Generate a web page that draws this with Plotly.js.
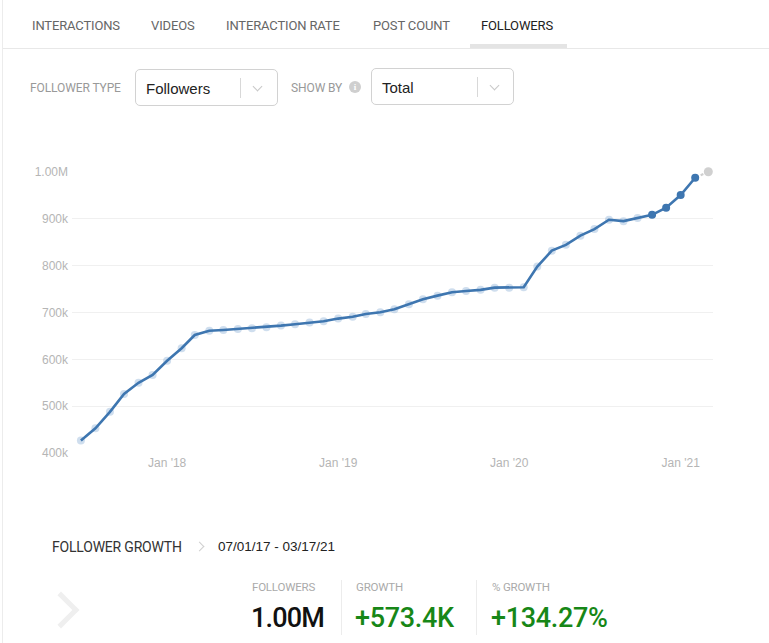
<!DOCTYPE html>
<html>
<head>
<meta charset="utf-8">
<script src="https://cdn.plot.ly/plotly-3.0.1.min.js"></script>
<style>
  html, body { margin:0; padding:0; background:#fff; }
  body { width:769px; height:643px; position:relative; overflow:hidden; font-family: Roboto, "Liberation Sans", sans-serif; }
  .abs { position:absolute; white-space:nowrap; }
  .tab { font-size:13px; color:#666; letter-spacing:-0.15px; top:18px; line-height:16px; }
  .lbl { font-size:12px; color:#999; letter-spacing:-0.1px; line-height:14px; }
  .box { border:1px solid #d2d2d2; border-radius:5px; box-sizing:border-box; }
  .sel { font-size:15px; color:#222; line-height:18px; font-family:"Liberation Sans", sans-serif; }
  .sep { background:#d8d8d8; width:1px; }
  .chev { width:6px; height:6px; border-right:1.5px solid #c8c8c8; border-bottom:1.5px solid #c8c8c8; transform:rotate(45deg); }
  .slbl { font-size:11.5px; color:#aaa; letter-spacing:-0.2px; line-height:14px; top:580px; }
  .sval { font-size:27px; line-height:30px; top:603px; font-family:Roboto, sans-serif; font-weight:500; letter-spacing:-0.3px; }
  .vsep { background:#ececec; width:1px; top:580px; height:55px; }
  #chart { position:absolute; left:0; top:0; width:769px; height:643px; }
</style>
</head>
<body>
<div id="chart"></div>

<!-- left border -->
<div class="abs" style="left:2px; top:0; width:1px; height:643px; background:#ececec;"></div>

<!-- tabs -->
<div class="abs tab" style="left:32px;">INTERACTIONS</div>
<div class="abs tab" style="left:151px;">VIDEOS</div>
<div class="abs tab" style="left:226px;">INTERACTION RATE</div>
<div class="abs tab" style="left:373px;">POST COUNT</div>
<div class="abs tab" style="left:481px; color:#222;">FOLLOWERS</div>
<div class="abs" style="left:470px; top:44px; width:97px; height:4px; background:#e4e4e4;"></div>
<div class="abs" style="left:3px; top:48px; width:766px; height:1px; background:#e8e8e8;"></div>

<!-- dropdown row -->
<div class="abs lbl" style="left:30px; top:81px;">FOLLOWER TYPE</div>
<div class="abs box" style="left:135px; top:69px; width:143px; height:37px;"></div>
<div class="abs sel" style="left:146px; top:80px;">Followers</div>
<div class="abs sep" style="left:240px; top:78px; height:20px;"></div>
<div class="abs chev" style="left:254px; top:83px;"></div>

<div class="abs lbl" style="left:291px; top:81px;">SHOW BY</div>
<div class="abs" style="left:349px; top:81px; width:12px; height:12px; border-radius:6px; background:#cfcfcf; color:#fff; font-size:9px; line-height:12px; text-align:center; font-weight:bold; font-family:'Liberation Serif', serif;">i</div>
<div class="abs box" style="left:371px; top:68px; width:143px; height:37px;"></div>
<div class="abs sel" style="left:382px; top:79px;">Total</div>
<div class="abs sep" style="left:477px; top:77px; height:20px;"></div>
<div class="abs chev" style="left:491px; top:82px;"></div>

<!-- bottom summary -->
<div class="abs" style="left:52px; top:539px; font-size:14px; color:#333; letter-spacing:-0.2px; line-height:16px;">FOLLOWER GROWTH</div>
<div class="abs" style="left:196px; top:543px; width:6px; height:6px; border-right:1.2px solid #cfcfcf; border-top:1.2px solid #cfcfcf; transform:rotate(45deg);"></div>
<div class="abs" style="left:218px; top:539px; font-size:13.5px; color:#222; line-height:16px; font-family:'Liberation Sans', sans-serif;">07/01/17 - 03/17/21</div>

<div class="abs" style="left:48px; top:597px; width:21px; height:21px; border-right:5px solid #efefef; border-top:5px solid #efefef; transform:rotate(45deg);"></div>

<div class="abs slbl" style="left:252px;">FOLLOWERS</div>
<div class="abs slbl" style="left:356px;">GROWTH</div>
<div class="abs slbl" style="left:492px;">% GROWTH</div>
<div class="abs sval" style="left:251px; color:#111; letter-spacing:-0.8px;">1.00M</div>
<div class="abs sval" style="left:355px; color:#178717;">+573.4K</div>
<div class="abs sval" style="left:491px; color:#178717;">+134.27%</div>
<div class="abs vsep" style="left:341px;"></div>
<div class="abs vsep" style="left:476px;"></div>

<script>
// ---- data ----
const months = [
  '2017-07-01','2017-08-01','2017-09-01','2017-10-01','2017-11-01','2017-12-01',
  '2018-01-01','2018-02-01','2018-03-01','2018-04-01','2018-05-01','2018-06-01',
  '2018-07-01','2018-08-01','2018-09-01','2018-10-01','2018-11-01','2018-12-01',
  '2019-01-01','2019-02-01','2019-03-01','2019-04-01','2019-05-01','2019-06-01',
  '2019-07-01','2019-08-01','2019-09-01','2019-10-01','2019-11-01','2019-12-01',
  '2020-01-01','2020-02-01','2020-03-01','2020-04-01','2020-05-01','2020-06-01',
  '2020-07-01','2020-08-01','2020-09-01','2020-10-01','2020-11-01','2020-12-01',
  '2021-01-01','2021-02-01','2021-03-01'
];
const followers = [
  427000, 452700, 488000, 526000, 550000, 566700,
  597000, 623700, 652000, 661000, 662800, 665000,
  666500, 668500, 672000, 675000, 678400, 681400,
  687000, 691000, 697000, 700600, 707000, 717700,
  728400, 736000, 743300, 746000, 748300, 753000,
  753000, 754000, 798000, 832000, 844400, 864000,
  878000, 898000, 895000, 901500, 908500, 923500,
  950600, 987600, 1000400
];
const recentCount = 4;     // recent months drawn with solid markers
const yTickVals = [400000, 500000, 600000, 700000, 800000, 900000, 1000000];
const yTickText = ['400k', '500k', '600k', '700k', '800k', '900k', '1.00M'];
const xTickVals = ['2018-01-01', '2019-01-01', '2020-01-01', '2021-01-01'];
const xTickText = ["Jan '18", "Jan '19", "Jan '20", "Jan '21"];

// ---- split ----
const n = months.length;
const mainX = months.slice(0, n - 1), mainY = followers.slice(0, n - 1);
const lightX = months.slice(0, n - 1 - recentCount), lightY = followers.slice(0, n - 1 - recentCount);
const solidX = months.slice(n - 1 - recentCount, n - 1), solidY = followers.slice(n - 1 - recentCount, n - 1);
const projX = months.slice(n - 2), projY = followers.slice(n - 2);

const blue = '#3e76b0';
const traces = [
  { x: lightX, y: lightY, type: 'scatter', mode: 'markers', cliponaxis: false,
    marker: { size: 8, color: 'rgba(160,190,222,0.5)' }, hoverinfo: 'skip' },
  { x: projX, y: projY, type: 'scatter', mode: 'lines', cliponaxis: false,
    line: { color: '#cfcfcf', width: 2, dash: 'dot' }, hoverinfo: 'skip' },
  { x: mainX, y: mainY, type: 'scatter', mode: 'lines', cliponaxis: false,
    line: { color: blue, width: 2.6 } },
  { x: solidX, y: solidY, type: 'scatter', mode: 'markers', cliponaxis: false,
    marker: { size: 8, color: blue } },
  { x: projX.slice(1), y: projY.slice(1), type: 'scatter', mode: 'markers', cliponaxis: false,
    marker: { size: 9, color: '#d0d0d0' } }
];

const layout = {
  width: 769, height: 643,
  margin: { l: 72, r: 56, t: 171, b: 189 },
  paper_bgcolor: 'rgba(0,0,0,0)', plot_bgcolor: 'rgba(0,0,0,0)',
  showlegend: false,
  font: { family: '"Liberation Sans", Arial, sans-serif', size: 12, color: '#b5b5b5' },
  xaxis: {
    type: 'date', range: ['2017-06-12', '2021-03-11'],
    showgrid: false, zeroline: false, showline: false, ticks: '',
    tickvals: xTickVals, ticktext: xTickText,
    tickfont: { size: 12, color: '#b5b5b5' }
  },
  yaxis: {
    range: [398000, 1002000],
    showgrid: true, gridcolor: '#f0f0f0', gridwidth: 1,
    zeroline: false, showline: false, ticks: '',
    ticklabelstandoff: 3,
    tickvals: yTickVals, ticktext: yTickText,
    tickfont: { size: 12, color: '#b5b5b5' }
  }
};

Plotly.newPlot('chart', traces, layout, { displayModeBar: false, staticPlot: true });
</script>
</body>
</html>
